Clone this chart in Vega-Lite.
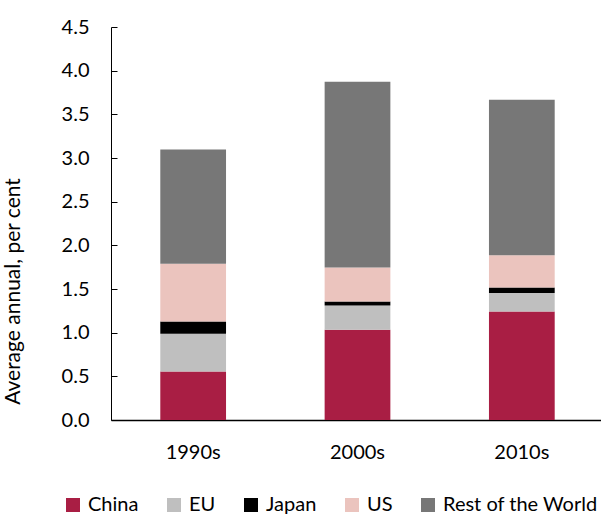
{
  "$schema": "https://vega.github.io/schema/vega-lite/v6.json",
  "autosize": {"type": "none"},
  "padding": {"left": 111, "top": 27, "right": 0, "bottom": 94},
  "width": 493,
  "height": 393,
  "background": "white",
  "config": {
    "font": "Lato",
    "view": {"stroke": null},
    "axis": {"labelFont": "Lato", "titleFont": "Lato", "labelColor": "#000", "titleColor": "#000", "domainColor": "#000", "tickColor": "#000"}
  },
  "data": {
    "values": [
      {"decade": "1990s", "region": "China", "rank": 1, "value": 0.556},
      {"decade": "1990s", "region": "EU", "rank": 2, "value": 0.432},
      {"decade": "1990s", "region": "Japan", "rank": 3, "value": 0.14},
      {"decade": "1990s", "region": "US", "rank": 4, "value": 0.662},
      {"decade": "1990s", "region": "Rest of the World", "rank": 5, "value": 1.307},
      {"decade": "2000s", "region": "China", "rank": 1, "value": 1.034},
      {"decade": "2000s", "region": "EU", "rank": 2, "value": 0.277},
      {"decade": "2000s", "region": "Japan", "rank": 3, "value": 0.046},
      {"decade": "2000s", "region": "US", "rank": 4, "value": 0.388},
      {"decade": "2000s", "region": "Rest of the World", "rank": 5, "value": 2.129},
      {"decade": "2010s", "region": "China", "rank": 1, "value": 1.243},
      {"decade": "2010s", "region": "EU", "rank": 2, "value": 0.21},
      {"decade": "2010s", "region": "Japan", "rank": 3, "value": 0.064},
      {"decade": "2010s", "region": "US", "rank": 4, "value": 0.37},
      {"decade": "2010s", "region": "Rest of the World", "rank": 5, "value": 1.781}
    ]
  },
  "mark": {"type": "bar"},
  "encoding": {
    "x": {
      "field": "decade", "type": "nominal",
      "scale": {"paddingInner": 0.6, "paddingOuter": 0.3},
      "axis": {"title": null, "labelAngle": 0, "labelFontSize": 20, "ticks": false, "labelPadding": 22, "domainWidth": 1.5}
    },
    "y": {
      "field": "value", "type": "quantitative", "stack": "zero",
      "scale": {"domain": [0, 4.5], "nice": false},
      "axis": {
        "title": "Average annual, per cent", "titleFontSize": 21, "titleFontWeight": "normal",
        "titleX": -88, "titleY": 264, "titleAnchor": "middle",
        "values": [0, 0.5, 1, 1.5, 2, 2.5, 3, 3.5, 4, 4.5], "format": ".1f",
        "labelFontSize": 20, "grid": false, "tickSize": -6, "labelPadding": 28, "domainWidth": 1
      }
    },
    "color": {
      "field": "region", "type": "nominal",
      "scale": {
        "domain": ["China", "EU", "Japan", "US", "Rest of the World"],
        "range": ["#A91E44", "#BFBFBF", "#000000", "#EBC4BE", "#777777"]
      },
      "legend": {
        "title": null, "orient": "none", "direction": "horizontal",
        "legendX": -48, "legendY": 468,
        "symbolType": "square", "symbolSize": 196, "symbolStrokeWidth": 0,
        "labelFontSize": 20, "labelColor": "#000", "columnPadding": 25, "labelOffset": 5
      }
    },
    "order": {"field": "rank", "type": "quantitative"}
  }
}
